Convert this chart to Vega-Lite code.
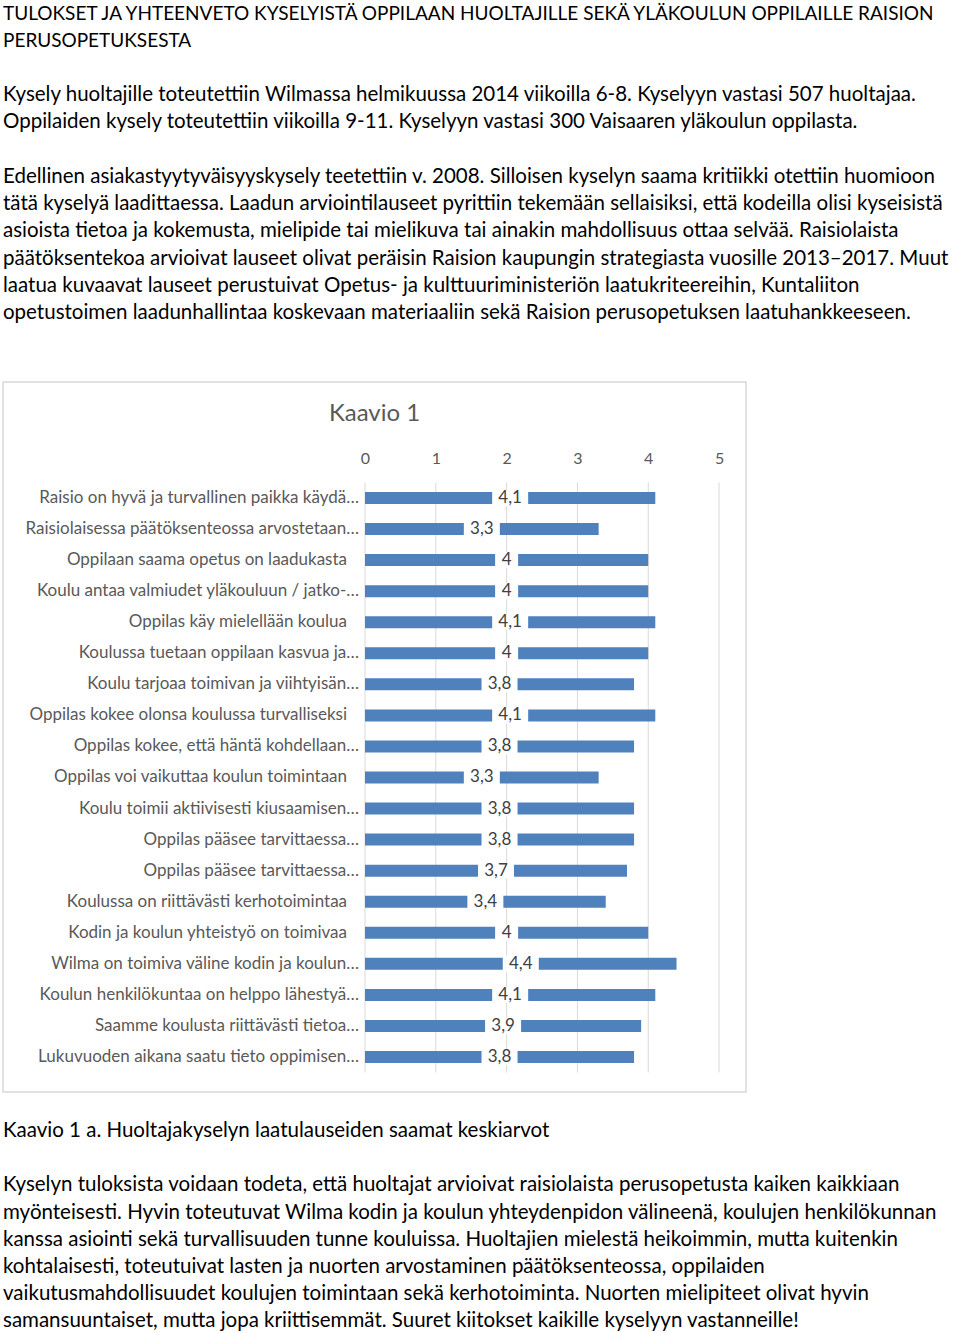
{
  "$schema": "https://vega.github.io/schema/vega-lite/v6.json",
  "padding": {"left": 2, "top": 0, "right": 0, "bottom": 0},
  "spacing": 0,
  "config": {
    "view": {"stroke": null},
    "font": "Lato",
    "locale": {"number": {"decimal": ",", "thousands": " ", "grouping": [3], "currency": ["", " €"]}}
  },
  "vconcat": [
    {
      "width": 958,
      "height": 381,
      "data": {"values": [
        {"n": 1, "t": "TULOKSET JA YHTEENVETO KYSELYISTÄ OPPILAAN HUOLTAJILLE SEKÄ YLÄKOULUN OPPILAILLE RAISION"},
        {"n": 2, "t": "PERUSOPETUKSESTA"},
        {"n": 3, "t": ""},
        {"n": 4, "t": "Kysely huoltajille toteutettiin Wilmassa helmikuussa 2014 viikoilla 6-8. Kyselyyn vastasi 507 huoltajaa."},
        {"n": 5, "t": "Oppilaiden kysely toteutettiin viikoilla 9-11. Kyselyyn vastasi 300 Vaisaaren yläkoulun oppilasta."},
        {"n": 6, "t": ""},
        {"n": 7, "t": "Edellinen asiakastyytyväisyyskysely teetettiin v. 2008.  Silloisen kyselyn saama kritiikki otettiin huomioon"},
        {"n": 8, "t": "tätä kyselyä laadittaessa. Laadun arviointilauseet pyrittiin tekemään sellaisiksi, että kodeilla olisi kyseisistä"},
        {"n": 9, "t": "asioista tietoa ja kokemusta, mielipide tai mielikuva tai ainakin mahdollisuus ottaa selvää. Raisiolaista"},
        {"n": 10, "t": "päätöksentekoa arvioivat lauseet olivat peräisin Raision kaupungin strategiasta vuosille 2013–2017. Muut"},
        {"n": 11, "t": "laatua kuvaavat lauseet perustuivat Opetus- ja kulttuuriministeriön laatukriteereihin, Kuntaliiton"},
        {"n": 12, "t": "opetustoimen laadunhallintaa koskevaan materiaaliin sekä Raision perusopetuksen laatuhankkeeseen."}
      ]},
      "encoding": {
        "x": {"datum": 0, "type": "quantitative", "scale": {"domain": [0, 1]}, "axis": null},
        "y": {"field": "n", "type": "ordinal", "bandPosition": 0.5, "scale": {"type": "band", "paddingInner": 0, "paddingOuter": 1.0, "align": 0}, "axis": null},
        "text": {"field": "t"}
      },
      "layer": [
        {
          "transform": [{"filter": "datum.n <= 2"}],
          "mark": {"type": "text", "align": "left", "baseline": "middle", "fontSize": 19, "color": "#000000"}
        },
        {
          "transform": [{"filter": "datum.n > 2"}],
          "mark": {"type": "text", "align": "left", "baseline": "middle", "fontSize": 20.5, "color": "#000000"}
        }
      ]
    },
    {
      "width": 743,
      "height": 710,
      "view": {"stroke": "#d9d9d9", "strokeWidth": 1.5},
      "title": {"text": "Kaavio 1", "fontSize": 24, "color": "#595959", "fontWeight": "normal", "offset": -44, "anchor": "middle", "font": "Lato"},
      "data": {"values": [
        {"label": "Raisio on hyvä ja turvallinen paikka käydä…", "v": 4.1},
        {"label": "Raisiolaisessa päätöksenteossa arvostetaan…", "v": 3.3},
        {"label": "Oppilaan saama opetus on laadukasta", "v": 4},
        {"label": "Koulu antaa valmiudet yläkouluun / jatko-…", "v": 4},
        {"label": "Oppilas käy mielellään koulua", "v": 4.1},
        {"label": "Koulussa tuetaan oppilaan kasvua ja…", "v": 4},
        {"label": "Koulu tarjoaa toimivan ja viihtyisän…", "v": 3.8},
        {"label": "Oppilas kokee olonsa koulussa turvalliseksi", "v": 4.1},
        {"label": "Oppilas kokee, että häntä kohdellaan…", "v": 3.8},
        {"label": "Oppilas voi vaikuttaa koulun toimintaan", "v": 3.3},
        {"label": "Koulu toimii aktiivisesti kiusaamisen…", "v": 3.8},
        {"label": "Oppilas pääsee tarvittaessa…", "v": 3.8},
        {"label": "Oppilas pääsee tarvittaessa…", "v": 3.7},
        {"label": "Koulussa on riittävästi kerhotoimintaa", "v": 3.4},
        {"label": "Kodin ja koulun yhteistyö on toimivaa", "v": 4},
        {"label": "Wilma on toimiva väline kodin ja koulun…", "v": 4.4},
        {"label": "Koulun henkilökuntaa on helppo lähestyä…", "v": 4.1},
        {"label": "Saamme koulusta riittävästi tietoa…", "v": 3.9},
        {"label": "Lukuvuoden aikana saatu tieto oppimisen…", "v": 3.8}
      ]},
      "transform": [{"window": [{"op": "row_number", "as": "i"}]}],
      "resolve": {"scale": {"x": "independent"}},
      "layer": [
        {
          "encoding": {
            "y": {"type": "quantitative", "scale": {"domain": [-2.735, 20.127], "reverse": true, "nice": false, "zero": false, "padding": 0}, "axis": null}
          },
          "layer": [
            {
              "data": {"values": [{"g": 0}, {"g": 1}, {"g": 2}, {"g": 3}, {"g": 4}, {"g": 5}]},
              "mark": {"type": "rule", "color": "#d9d9d9", "strokeWidth": 1},
              "encoding": {
                "x": {"field": "g", "type": "quantitative", "scale": {"domain": [-5.113, 5.381], "nice": false, "zero": false, "padding": 0}},
                "y": {"datum": 0.5, "type": "quantitative"},
                "y2": {"datum": 19.5}
              }
            },
            {
              "mark": {"type": "bar", "orient": "horizontal", "height": 12, "color": "#4F81BD"},
              "encoding": {
                "x": {"field": "v", "type": "quantitative", "scale": {"domain": [-5.113, 5.381], "nice": false, "zero": false, "padding": 0},
                  "axis": {"orient": "top", "values": [0, 1, 2, 3, 4, 5], "grid": false, "domain": false, "ticks": false, "tickSize": 0, "labelPadding": 0, "offset": -84, "labelFontSize": 16, "labelColor": "#595959", "labelFont": "Lato", "title": null, "format": "d"}},
                "x2": {"datum": 0},
                "y": {"field": "i", "type": "quantitative"}
              }
            },
            {
              "transform": [{"filter": "indexof(datum.label, '…') < 0"}],
              "mark": {"type": "text", "align": "right", "baseline": "middle", "fontSize": 17, "color": "#595959"},
              "encoding": {
                "x": {"datum": -0.254, "type": "quantitative"},
                "y": {"field": "i", "type": "quantitative"},
                "text": {"field": "label"}
              }
            },
            {
              "transform": [{"filter": "indexof(datum.label, '…') >= 0"}],
              "mark": {"type": "text", "align": "right", "baseline": "middle", "fontSize": 17, "color": "#595959"},
              "encoding": {
                "x": {"datum": -0.085, "type": "quantitative"},
                "y": {"field": "i", "type": "quantitative"},
                "text": {"field": "label"}
              }
            }
          ]
        },
        {
          "encoding": {
            "x": {"field": "v", "type": "quantitative", "scale": {"domain": [-10.226, 10.762], "nice": false, "zero": false, "padding": 0}, "axis": null},
            "y": {"field": "i", "type": "quantitative"}
          },
          "layer": [
            {
              "transform": [{"filter": "datum.v != 4"}],
              "mark": {"type": "tick", "orient": "vertical", "thickness": 36, "size": 16, "color": "#ffffff", "opacity": 1}
            },
            {
              "transform": [{"filter": "datum.v == 4"}],
              "mark": {"type": "tick", "orient": "vertical", "thickness": 23, "size": 16, "color": "#ffffff", "opacity": 1}
            },
            {
              "mark": {"type": "text", "align": "center", "baseline": "middle", "fontSize": 17, "color": "#404040"},
              "encoding": {"text": {"field": "v", "type": "quantitative", "format": ".1~f"}}
            }
          ]
        }
      ]
    },
    {
      "width": 958,
      "height": 242,
      "data": {"values": [
        {"n": 1, "t": "Kaavio 1 a. Huoltajakyselyn laatulauseiden saamat keskiarvot"},
        {"n": 2, "t": ""},
        {"n": 3, "t": "Kyselyn tuloksista voidaan todeta, että huoltajat arvioivat raisiolaista perusopetusta kaiken kaikkiaan"},
        {"n": 4, "t": "myönteisesti. Hyvin toteutuvat Wilma kodin ja koulun yhteydenpidon välineenä, koulujen henkilökunnan"},
        {"n": 5, "t": "kanssa asiointi sekä turvallisuuden tunne kouluissa. Huoltajien mielestä heikoimmin, mutta kuitenkin"},
        {"n": 6, "t": "kohtalaisesti, toteutuivat lasten ja nuorten arvostaminen päätöksenteossa, oppilaiden"},
        {"n": 7, "t": "vaikutusmahdollisuudet koulujen toimintaan sekä kerhotoiminta. Nuorten mielipiteet olivat hyvin"},
        {"n": 8, "t": "samansuuntaiset, mutta jopa kriittisemmät. Suuret kiitokset kaikille kyselyyn vastanneille!"}
      ]},
      "mark": {"type": "text", "align": "left", "baseline": "middle", "fontSize": 20.5, "color": "#000000"},
      "encoding": {
        "x": {"datum": 0, "type": "quantitative", "scale": {"domain": [0, 1]}, "axis": null},
        "y": {"field": "n", "type": "ordinal", "bandPosition": 0.5, "scale": {"type": "band", "paddingInner": 0, "paddingOuter": 0.449, "align": 1}, "axis": null},
        "text": {"field": "t"}
      }
    }
  ]
}
